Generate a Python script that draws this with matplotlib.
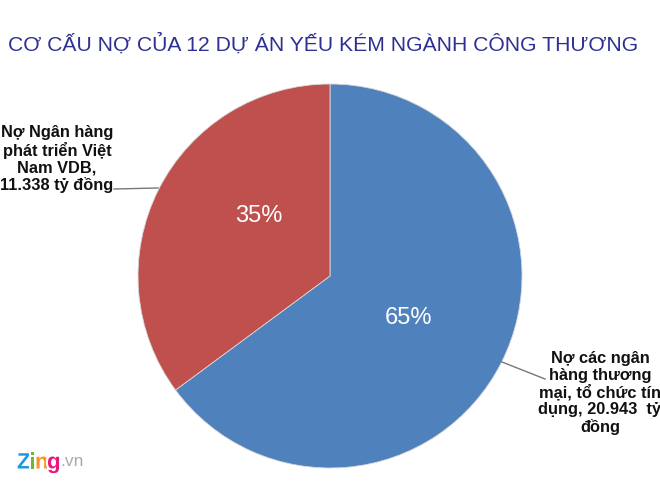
import matplotlib
matplotlib.use("Agg")
import matplotlib.pyplot as plt
import matplotlib.patheffects as pe

plt.rcParams['font.family'] = ['Liberation Sans', 'DejaVu Sans']

labels = ["Nợ các ngân\nhàng thương\nmại, tổ chức tín\ndụng, 20.943  tỷ\nđồng",
          "Nợ Ngân hàng\nphát triển Việt\nNam VDB,\n11.338 tỷ đồng"]
values = [20.943, 11.338]
pct_labels = ["65%", "35%"]
colors = ["#4F81BD", "#C0504D"]
title = "CƠ CẤU NỢ CỦA 12 DỰ ÁN YẾU KÉM NGÀNH CÔNG THƯƠNG"

W, H = 660, 483
fig = plt.figure(figsize=(6.6, 4.83), dpi=100)
cx, cy, r = 330, 276, 192
ax = fig.add_axes([(cx - r) / W, 1 - (cy + r) / H, 2 * r / W, 2 * r / H])
wedges, _ = ax.pie(values, colors=colors, startangle=90, counterclock=False,
                   radius=1, wedgeprops=dict(linewidth=0.6, edgecolor='#d8d8d8'))
ax.set_xlim(-1, 1)
ax.set_ylim(-1, 1)
ax.set_aspect('equal')
ax.axis('off')

# percentage labels
ax.text(0.41, -0.22, pct_labels[0], color='white', fontsize=17, ha='center', va='center')
ax.text(-0.37, 0.31, pct_labels[1], color='white', fontsize=17, ha='center', va='center')

# title
fig.text(0.49, 1 - 44 / H, title, color='#2E3192', fontsize=15.2, ha='center', va='center')


def fx(x):
    return x / W


def fy(y):
    return 1 - y / H


fig.text(fx(600), fy(393), labels[0], fontsize=11.8, fontweight='bold', ha='center',
         va='center', linespacing=1.12, color='#111111')
fig.add_artist(plt.Line2D([fx(502), fx(545)], [fy(362), fy(379)], color='#777777', lw=1))

fig.text(fx(57), fy(159), labels[1], fontsize=11.8, fontweight='bold', ha='center',
         va='center', linespacing=1.12, color='#111111')
fig.add_artist(plt.Line2D([fx(114), fx(158)], [fy(189), fy(188)], color='#777777', lw=1))

# watermark
outline = [pe.withStroke(linewidth=3, foreground='white')]
x0 = 17
for ch, c, w in [("Z", "#1E9BE0", 12), ("i", "#66BB33", 6), ("n", "#F7931E", 12), ("g", "#E6197E", 12)]:
    fig.text(fx(x0), fy(463), ch, color=c, fontsize=16, fontweight='bold', ha='left',
             va='center', path_effects=outline)
    x0 += w
fig.text(fx(x0 + 1), fy(462), ".vn", color='#AAAAAA', fontsize=12.5, ha='left', va='center')

fig.savefig("out.png", dpi=100, facecolor='white')
